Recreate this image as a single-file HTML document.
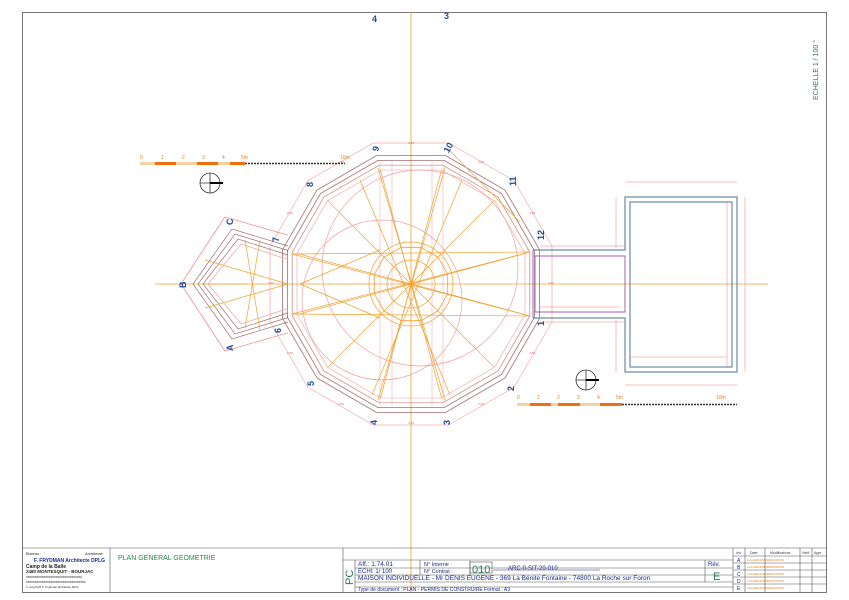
<!DOCTYPE html>
<html><head><meta charset="utf-8"><style>
html,body{margin:0;padding:0;background:#fff;}
svg{display:block;font-family:"Liberation Sans",sans-serif;}
</style></head><body>
<svg id="s" width="849" height="600" viewBox="0 0 849 600" xmlns="http://www.w3.org/2000/svg">
<rect x="0" y="0" width="849" height="600" fill="#fff"/>
<!-- frame -->
<rect x="22.5" y="12.5" width="804" height="580" fill="none" stroke="#777" stroke-width="1"/>
<!-- axes -->
<line x1="411" y1="12" x2="411" y2="592" stroke="#f0a030" stroke-width="0.8"/>
<line x1="155" y1="284" x2="768" y2="284" stroke="#f0a030" stroke-width="0.8"/>
<g id="geo"></g>
<!-- right rooms -->
<g fill="none">
<path d="M533 250 L625 250 L625 197 L737 197 L737 372 L625 372 L625 318 L533 318" stroke="#6a8aa8" stroke-width="1.2"/>
<rect x="630" y="202" width="102" height="165" stroke="#6a8aa8" stroke-width="1.2"/>
<rect x="535" y="256" width="90" height="56" stroke="#a060b0" stroke-width="1"/>
<line x1="533" y1="250" x2="533" y2="318" stroke="#a060b0" stroke-width="1"/>
<line x1="625" y1="182" x2="737" y2="182" stroke="#f08080" stroke-width="0.5"/>
<line x1="625" y1="385" x2="737" y2="385" stroke="#f08080" stroke-width="0.5"/>
<line x1="745" y1="197" x2="745" y2="372" stroke="#f08080" stroke-width="0.5"/>
<line x1="727" y1="202" x2="727" y2="367" stroke="#f08080" stroke-width="0.5"/>
<line x1="630" y1="357" x2="727" y2="357" stroke="#f08080" stroke-width="0.5"/>
<line x1="616" y1="197" x2="616" y2="248" stroke="#f08080" stroke-width="0.5"/>
<line x1="616" y1="320" x2="616" y2="372" stroke="#f08080" stroke-width="0.5"/>
<line x1="540" y1="246" x2="625" y2="246" stroke="#f08080" stroke-width="0.5"/>
<line x1="540" y1="322" x2="625" y2="322" stroke="#f08080" stroke-width="0.5"/>
<line x1="540" y1="307" x2="620" y2="307" stroke="#f08080" stroke-width="0.5"/>
</g>
<!-- scale bars -->
<g>
<line x1="140" y1="163.5" x2="245" y2="163.5" stroke="#f07010" stroke-width="3"/>
<line x1="140" y1="163.5" x2="155" y2="163.5" stroke="#f5d0a0" stroke-width="3"/>
<line x1="176" y1="163.5" x2="197" y2="163.5" stroke="#f5d0a0" stroke-width="3"/>
<line x1="218" y1="163.5" x2="230" y2="163.5" stroke="#f5d0a0" stroke-width="3"/>
<line x1="245" y1="163.5" x2="345" y2="163.5" stroke="#333" stroke-width="1.5" stroke-dasharray="2 1"/>
<g font-size="5" fill="#e08020"><text x="140" y="159">0</text><text x="161" y="159">1</text><text x="182" y="159">2</text><text x="202" y="159">3</text><text x="222" y="159">4</text><text x="241" y="159">5m</text><text x="340" y="159">10m</text></g>
<line x1="517" y1="404.5" x2="622" y2="404.5" stroke="#f07010" stroke-width="3"/>
<line x1="517" y1="404.5" x2="530" y2="404.5" stroke="#f5d0a0" stroke-width="3"/>
<line x1="551" y1="404.5" x2="558" y2="404.5" stroke="#f5d0a0" stroke-width="3"/>
<line x1="580" y1="404.5" x2="600" y2="404.5" stroke="#f5d0a0" stroke-width="3"/>
<line x1="622" y1="404.5" x2="737" y2="404.5" stroke="#333" stroke-width="1.5" stroke-dasharray="2 1"/>
<g font-size="5" fill="#e08020"><text x="517" y="399">0</text><text x="537" y="399">1</text><text x="557" y="399">2</text><text x="577" y="399">3</text><text x="597" y="399">4</text><text x="616" y="399">5m</text><text x="716" y="399">10m</text></g>
<circle cx="210" cy="183" r="10" fill="none" stroke="#333" stroke-width="0.8"/>
<line x1="200" y1="183" x2="220" y2="183" stroke="#333" stroke-width="0.8"/><line x1="210" y1="173" x2="210" y2="193" stroke="#333" stroke-width="0.8"/><line x1="210" y1="183" x2="223" y2="183" stroke="#000" stroke-width="2"/>
<circle cx="586" cy="380" r="10" fill="none" stroke="#333" stroke-width="0.8"/>
<line x1="576" y1="380" x2="596" y2="380" stroke="#333" stroke-width="0.8"/><line x1="586" y1="370" x2="586" y2="390" stroke="#333" stroke-width="0.8"/><line x1="586" y1="380" x2="599" y2="380" stroke="#000" stroke-width="2"/>
</g>
<!-- labels -->
<g font-size="9" font-weight="bold" fill="#1a4a9a">
<text x="372" y="22">4</text><text x="444" y="19">3</text>
<text x="372" y="152" transform="rotate(-75 375 148)">9</text>
<text x="443" y="152" transform="rotate(-60 447 148)">10</text>
<text x="508" y="186" transform="rotate(-90 512 182)">11</text>
<text x="536" y="240" transform="rotate(-90 540 236)">12</text>
<text x="537" y="327" transform="rotate(-90 540 323)">1</text>
<text x="506" y="391" transform="rotate(-90 510 387)">2</text>
<text x="443" y="424" transform="rotate(-90 447 421)">3</text>
<text x="370" y="424" transform="rotate(-90 374 421)">4</text>
<text x="307" y="387" transform="rotate(-90 310 383)">5</text>
<text x="274" y="332" transform="rotate(-90 278 329)">6</text>
<text x="272" y="241" transform="rotate(-90 276 238)">7</text>
<text x="307" y="187" transform="rotate(-90 310 184)">8</text>
<text x="225" y="225" transform="rotate(-90 229 221)">C</text>
<text x="178" y="288" transform="rotate(-90 182 284)">B</text>
<text x="225" y="351" transform="rotate(-90 229 347)">A</text>
</g>
<text x="818" y="70" font-size="7" fill="#2a7a5a" transform="rotate(-90 818 70)" text-anchor="middle">ECHELLE 1 / 100 °</text>
<!-- title block -->
<g fill="none" stroke="#555" stroke-width="0.6">
<line x1="22" y1="548" x2="826" y2="548"/>
<line x1="110" y1="548" x2="110" y2="592"/>
<line x1="343" y1="548" x2="343" y2="592"/>
<line x1="355" y1="560" x2="355" y2="592"/>
<line x1="343" y1="560" x2="733" y2="560"/>
<line x1="355" y1="568" x2="733" y2="568"/>
<line x1="355" y1="575" x2="733" y2="575"/>
<line x1="355" y1="582" x2="733" y2="582"/>
<line x1="355" y1="587" x2="733" y2="587"/>
<line x1="420" y1="560" x2="420" y2="575"/>
<line x1="470" y1="560" x2="470" y2="575"/>
<line x1="705" y1="560" x2="705" y2="582"/>
<line x1="733" y1="548" x2="733" y2="592"/>
<line x1="745" y1="548" x2="745" y2="592"/>
<line x1="765" y1="548" x2="765" y2="592"/>
<line x1="800" y1="548" x2="800" y2="592"/>
<line x1="812" y1="548" x2="812" y2="592"/>
<line x1="733" y1="556" x2="826" y2="556"/>
<line x1="733" y1="563" x2="826" y2="563"/>
<line x1="733" y1="570" x2="826" y2="570"/>
<line x1="733" y1="577" x2="826" y2="577"/>
<line x1="733" y1="584" x2="826" y2="584"/>
<rect x="470" y="562" width="22" height="11"/>
<line x1="493" y1="570" x2="600" y2="570" stroke="#1a2a8a"/>
</g>
<g font-size="5" fill="#222">
<text x="26" y="555" font-size="4">Bureau :</text><text x="85" y="555" font-size="4">Architecte</text>
<text x="34" y="562" font-weight="bold" font-size="5" fill="#1a2a8a">F. FRYDMAN Architecte DPLG</text>
<text x="26" y="568" font-weight="bold">Camp de la Balle</text>
<text x="26" y="573" font-weight="bold" font-size="4.5">2480 MONTESQUIT - BOURJAC</text>
<text x="26" y="578" font-size="3.5">xxxxxxxxxxxxxxxxxxxxxxxxxxxxxxxx</text>
<text x="26" y="583" font-size="3.5">xxxxxxxxxxxxxxxxxxxxxxxxxxxxxxxxxx</text>
<text x="26" y="588" font-size="3">© copyright F. Frydman architecte 2013</text>
</g>
<text x="118" y="560" font-size="7" fill="#2a8a4a">PLAN GENERAL GEOMETRIE</text>
<text x="353" y="585" font-size="11" fill="#2a7a5a" transform="rotate(-90 353 585)">PC</text>
<g font-size="6.5" fill="#1a2a8a">
<text x="358" y="566">Aff.: 1.74.01</text>
<text x="358" y="573" font-size="6">ECHl: 1/ 100</text>
<text x="358" y="580">MAISON INDIVIDUELLE  - Mr DENIS EUGENE  -  369 La Bénite Fontaine  -  74800 La Roche sur Foron</text>
<text x="358" y="591" font-size="5">Type de document :  PLAN  -  PERMIS DE CONSTRUIRE      Format : A3</text>
<text x="424" y="566" font-size="5.5">N° Interne :</text>
<text x="424" y="573" font-size="5.5">N° Contrat :</text>
<text x="472" y="573" font-size="11" fill="#2a7a5a">010</text>
<text x="508" y="570" font-size="6">ARC-0-SIT-20-010</text>
<text x="708" y="566" font-size="6">Rév.</text>
<text x="713" y="580" font-size="11" fill="#2a7a5a">E</text>
</g>
<g font-size="3.5" fill="#333"><text x="736" y="554">Ind</text><text x="750" y="554">Date</text><text x="770" y="554">Modifications</text><text x="802" y="554">Vérif.</text><text x="814" y="554">Appr.</text></g>
<g font-size="5" fill="#1a2a8a"><text x="737" y="562">A</text><text x="737" y="569">B</text><text x="737" y="576">C</text><text x="737" y="583">D</text><text x="737" y="590">E</text></g>
<g font-size="3" fill="#e07010"><text x="747" y="561">xx/xx/2013 MODIFICATION</text><text x="747" y="568">xx/xx/2013 MODIFICATION</text><text x="747" y="575">xx/xx/2013 MODIFICATION</text><text x="747" y="582">xx/xx/2013 MODIFICATION</text><text x="747" y="589">xx/xx/2013 MODIFICATION</text></g>
</svg>
<script>
(function(){
var g=document.getElementById('geo'),NS='http://www.w3.org/2000/svg',cx=411,cy=284;
function el(t,a){var e=document.createElementNS(NS,t);for(var k in a)e.setAttribute(k,a[k]);g.appendChild(e);return e;}
function dod(R,x,y){var p=[];for(var k=0;k<12;k++){var a=(15+30*k)*Math.PI/180;p.push([x+R*Math.cos(a),y+R*Math.sin(a)]);}return p;}
function poly(p,s,w){el('polygon',{points:p.map(function(q){return q[0].toFixed(1)+','+q[1].toFixed(1)}).join(' '),fill:'none',stroke:s,'stroke-width':w});}
// circles
el('circle',{cx:382,cy:300,r:80,fill:'none',stroke:'#f0a0a0','stroke-width':0.7});
el('circle',{cx:420,cy:268,r:98,fill:'none',stroke:'#f0a0a0','stroke-width':0.7});
el('circle',{cx:cx,cy:cy,r:42,fill:'none',stroke:'#f0a030','stroke-width':0.7});
el('circle',{cx:cx,cy:cy,r:24,fill:'none',stroke:'#f0a030','stroke-width':0.7});
// dodecagons
poly(dod(146,cx,cy),'#f08080',0.5);
poly(dod(133,cx,cy),'#a07070',0.8);
poly(dod(128,cx,cy),'#a07070',0.8);
poly(dod(123,cx,cy),'#c08080',0.7);
poly(dod(118,cx,cy),'#f0a0a0',0.6);
poly(dod(38,cx,cy),'#f0a030',0.8);
// pentagon
var pents=[[0,'#a07070'],[5,'#a07070'],[10,'#a07070'],[15,'#f0a0a0'],[-12,'#f08080']];
pents.forEach(function(o){var d=o[0];
 var p=[[288,246+d*0.9],[232+d*0.6,229+d],[193+d,284],[232+d*0.6,339-d],[288,322-d*0.9]];
 el('polyline',{points:p.map(function(q){return q.join(',')}).join(' '),fill:'none',stroke:o[1],'stroke-width':0.7});});
// orange construction lines
var dv=dod(118,cx,cy),L=[];
for(var k=0;k<12;k++){L.push([dv[k],[cx,cy]]);}
L.push([[292,254],[530,316]],[[292,314],[530,252]],[[292,254],[530,252]],[[292,314],[530,316]]);
L.push([[378,168],[445,400]],[[445,168],[378,400]],[[300,284],[380,250]],[[300,284],[380,318]]);
L.push([[205,260],[288,284]],[[205,308],[288,284]],[[245,240],[260,330]],[[245,328],[260,240]],[[248,284],[205,284]]);
L.push([[447,148],[520,222]],[[360,180],[450,395]],[[462,180],[372,395]]);
L.forEach(function(l){el('line',{x1:l[0][0],y1:l[0][1],x2:l[1][0],y2:l[1][1],stroke:'#f0a030','stroke-width':0.7});});
// pink vertical lines
[[380,420],[392,420],[432,420],[443,420]].forEach(function(v){el('line',{x1:v[0],y1:162,x2:v[0],y2:406,stroke:'#f0a0a0','stroke-width':0.5});});
// small red dimension ticks
for(var k=0;k<12;k++){var a=(30*k)*Math.PI/180,r=140;el('text',{x:(cx+r*Math.cos(a)).toFixed(1),y:(cy+r*Math.sin(a)).toFixed(1),'font-size':3,fill:'#f05050','text-anchor':'middle'}).textContent='2.63';}
})();
</script>
</body></html>
